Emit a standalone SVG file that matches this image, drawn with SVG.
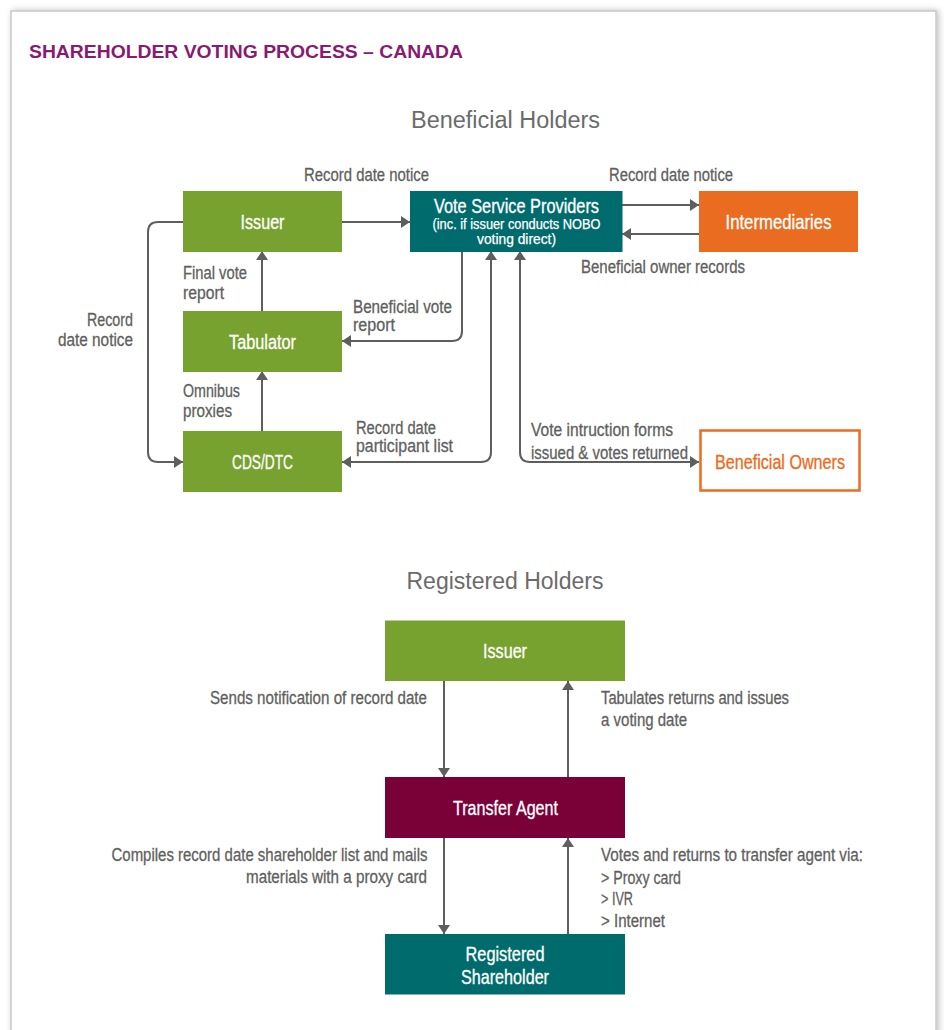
<svg xmlns="http://www.w3.org/2000/svg" width="944" height="1030" viewBox="0 0 944 1030">
<defs>
<filter id="sh" x="-5%" y="-5%" width="110%" height="110%">
<feDropShadow dx="2" dy="0" stdDeviation="3" flood-color="#000" flood-opacity="0.25"/>
</filter>
<marker id="ah" markerUnits="userSpaceOnUse" markerWidth="10" markerHeight="12" refX="9" refY="6" orient="auto-start-reverse" viewBox="0 0 10 12">
<path d="M0,0 L9,6 L0,12 z" fill="#5e5e5e"/>
</marker>
<style>
.lbl{font-family:"Liberation Sans Narrow","Liberation Sans",Arial,sans-serif;font-size:17.5px;fill:#5f5f60;stroke:#5f5f60;stroke-width:0.3px}
.nt{font-family:"Liberation Sans Narrow","Liberation Sans",Arial,sans-serif;font-size:19.5px;fill:#ffffff;stroke:#ffffff;stroke-width:0.3px;text-anchor:middle}
.ns{font-family:"Liberation Sans Narrow","Liberation Sans",Arial,sans-serif;font-size:14.5px;fill:#ffffff;stroke:#ffffff;stroke-width:0.25px;text-anchor:middle}
.hd{font-family:"Liberation Sans",Arial,sans-serif;font-size:23.5px;fill:#6b6b6b;text-anchor:middle}
.green{fill:#78a22f}
.teal{fill:#006b6d}
.orange{fill:#e96c21}
.maroon{fill:#7a0038}
.cn{fill:none;stroke:#5e5e5e;stroke-width:2}
</style>
</defs>
<rect x="0" y="0" width="944" height="1030" fill="#ffffff"/>
<rect x="11" y="11" width="925" height="1040" fill="#ffffff" stroke="#c8c8c8" stroke-width="1.5" filter="url(#sh)"/>
<text x="29" y="57.5" font-family="'Liberation Sans',Arial,sans-serif" font-size="18" font-weight="bold" fill="#8a1a70" textLength="434" lengthAdjust="spacingAndGlyphs">SHAREHOLDER VOTING PROCESS – CANADA</text>
<text class="hd" x="505.5" y="128" textLength="189" lengthAdjust="spacingAndGlyphs">Beneficial Holders</text>
<text class="hd" x="505" y="589" textLength="197" lengthAdjust="spacingAndGlyphs">Registered Holders</text>

<g id="connectors">
<path class="cn" d="M342,222 H410" marker-end="url(#ah)"/>
<path class="cn" d="M622,205 H699" marker-end="url(#ah)"/>
<path class="cn" d="M699,234 H622" marker-end="url(#ah)"/>
<path class="cn" d="M262,311 V251" marker-end="url(#ah)"/>
<path class="cn" d="M262,431 V371" marker-end="url(#ah)"/>
<path class="cn" d="M462,251 V331 Q462,341 452,341 H342" marker-end="url(#ah)"/>
<path class="cn" d="M342,462 H481 Q491,462 491,452 V251" marker-start="url(#ah)" marker-end="url(#ah)"/>
<path class="cn" d="M520,251 V452 Q520,462 530,462 H699" marker-start="url(#ah)" marker-end="url(#ah)"/>
<path class="cn" d="M183,222 H158 Q148,222 148,232 V452 Q148,462 158,462 H183" marker-end="url(#ah)"/>
<path class="cn" d="M444,681 V777" marker-end="url(#ah)"/>
<path class="cn" d="M568,777 V681" marker-end="url(#ah)"/>
<path class="cn" d="M444,838 V934" marker-end="url(#ah)"/>
<path class="cn" d="M568,934 V838" marker-end="url(#ah)"/>
</g>

<g id="labels">
<text class="lbl" x="304" y="180.5" textLength="125" lengthAdjust="spacingAndGlyphs">Record date notice</text>
<text class="lbl" x="609" y="180.5" textLength="124" lengthAdjust="spacingAndGlyphs">Record date notice</text>
<text class="lbl" x="581" y="273" textLength="164" lengthAdjust="spacingAndGlyphs">Beneficial owner records</text>
<text class="lbl" x="183" y="279" textLength="64" lengthAdjust="spacingAndGlyphs">Final vote</text>
<text class="lbl" x="183" y="299" textLength="41" lengthAdjust="spacingAndGlyphs">report</text>
<text class="lbl" x="353" y="313" textLength="99" lengthAdjust="spacingAndGlyphs">Beneficial vote</text>
<text class="lbl" x="353" y="331" textLength="42" lengthAdjust="spacingAndGlyphs">report</text>
<text class="lbl" x="87" y="326" textLength="46" lengthAdjust="spacingAndGlyphs">Record</text>
<text class="lbl" x="58" y="345.5" textLength="75" lengthAdjust="spacingAndGlyphs">date notice</text>
<text class="lbl" x="183" y="397" textLength="57" lengthAdjust="spacingAndGlyphs">Omnibus</text>
<text class="lbl" x="183" y="417" textLength="49" lengthAdjust="spacingAndGlyphs">proxies</text>
<text class="lbl" x="356" y="434" textLength="80" lengthAdjust="spacingAndGlyphs">Record date</text>
<text class="lbl" x="356" y="452" textLength="97" lengthAdjust="spacingAndGlyphs">participant list</text>
<text class="lbl" x="531" y="436" textLength="142" lengthAdjust="spacingAndGlyphs">Vote intruction forms</text>
<text class="lbl" x="531" y="458.5" textLength="157" lengthAdjust="spacingAndGlyphs">issued &amp; votes returned</text>
<text class="lbl" x="210" y="704" textLength="217" lengthAdjust="spacingAndGlyphs">Sends notification of record date</text>
<text class="lbl" x="601" y="704" textLength="188" lengthAdjust="spacingAndGlyphs">Tabulates returns and issues</text>
<text class="lbl" x="601" y="725.5" textLength="86" lengthAdjust="spacingAndGlyphs">a voting date</text>
<text class="lbl" x="111.5" y="861" textLength="316" lengthAdjust="spacingAndGlyphs">Compiles record date shareholder list and mails</text>
<text class="lbl" x="246" y="883" textLength="181" lengthAdjust="spacingAndGlyphs">materials with a proxy card</text>
<text class="lbl" x="601" y="861" textLength="262" lengthAdjust="spacingAndGlyphs">Votes and returns to transfer agent via:</text>
<text class="lbl" x="601" y="883.5" textLength="80" lengthAdjust="spacingAndGlyphs">&gt; Proxy card</text>
<text class="lbl" x="601" y="905" textLength="32" lengthAdjust="spacingAndGlyphs">&gt; IVR</text>
<text class="lbl" x="601" y="927" textLength="64" lengthAdjust="spacingAndGlyphs">&gt; Internet</text>
</g>

<g id="issuer">
<rect class="green" x="183" y="191" width="159" height="61"/>
<text class="nt" x="262.5" y="228.5" textLength="44" lengthAdjust="spacingAndGlyphs">Issuer</text>
</g>
<g id="vsp">
<rect class="teal" x="410" y="191" width="212.5" height="61"/>
<text class="nt" x="516.5" y="213" textLength="165" lengthAdjust="spacingAndGlyphs">Vote Service Providers</text>
<text class="ns" x="516.5" y="228.5" textLength="168" lengthAdjust="spacingAndGlyphs">(inc. if issuer conducts NOBO</text>
<text class="ns" x="516.5" y="243.5" textLength="79" lengthAdjust="spacingAndGlyphs">voting direct)</text>
</g>
<g id="intermediaries">
<rect class="orange" x="699" y="191" width="159" height="61"/>
<text class="nt" x="778.5" y="228.5" textLength="106" lengthAdjust="spacingAndGlyphs">Intermediaries</text>
</g>
<g id="tabulator">
<rect class="green" x="183" y="311" width="159" height="61"/>
<text class="nt" x="262.5" y="348.5" textLength="67" lengthAdjust="spacingAndGlyphs">Tabulator</text>
</g>
<g id="cdsdtc">
<rect class="green" x="183" y="431" width="159" height="61"/>
<text class="nt" x="262.5" y="469" textLength="61" lengthAdjust="spacingAndGlyphs">CDS/DTC</text>
</g>
<g id="beneficial-owners">
<rect x="700.5" y="430.5" width="159" height="60" fill="#ffffff" stroke="#e96c21" stroke-width="2.5"/>
<text class="nt" x="780" y="468.5" style="fill:#e96c21;stroke:#e96c21" textLength="130" lengthAdjust="spacingAndGlyphs">Beneficial Owners</text>
</g>
<g id="issuer2">
<rect class="green" x="385" y="620.5" width="240" height="60.5"/>
<text class="nt" x="505" y="658" textLength="44" lengthAdjust="spacingAndGlyphs">Issuer</text>
</g>
<g id="transfer-agent">
<rect class="maroon" x="385" y="777" width="240" height="61"/>
<text class="nt" x="505.5" y="814.5" textLength="105" lengthAdjust="spacingAndGlyphs">Transfer Agent</text>
</g>
<g id="registered-shareholder">
<rect class="teal" x="385" y="934" width="240" height="60.5"/>
<text class="nt" x="505" y="961" textLength="79" lengthAdjust="spacingAndGlyphs">Registered</text>
<text class="nt" x="505" y="983.5" textLength="88" lengthAdjust="spacingAndGlyphs">Shareholder</text>
</g>
</svg>
